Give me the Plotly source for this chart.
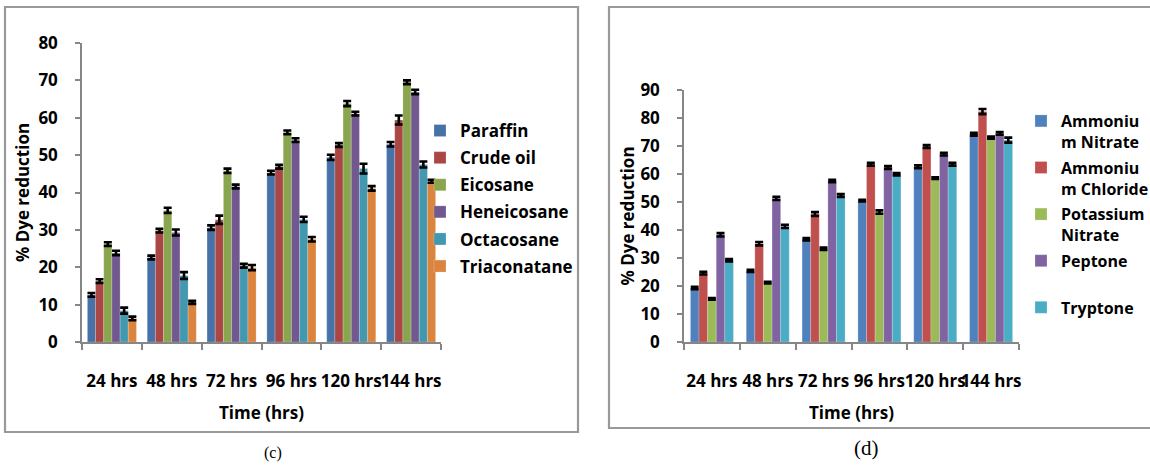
import plotly.graph_objects as go

# ---------------- data ----------------
times = ["24 hrs", "48 hrs", "72 hrs", "96 hrs", "120 hrs", "144 hrs"]

# panel (c)
c_names = ["Paraffin", "Crude oil", "Eicosane", "Heneicosane", "Octacosane", "Triaconatane"]
paraffin = [12.6, 22.6, 30.6, 45.3, 49.4, 52.9]
crude_oil = [16.3, 29.8, 32.7, 46.9, 52.7, 59.4]
eicosane = [26.2, 35.2, 45.8, 56.1, 63.8, 69.5]
heneicosane = [23.8, 29.3, 41.6, 54.0, 61.1, 66.9]
octacosane = [8.4, 17.8, 20.4, 32.8, 46.4, 47.5]
triaconatane = [6.3, 10.6, 19.9, 27.5, 41.1, 43.0]
paraffin_err = [0.5, 0.5, 0.6, 0.5, 0.7, 0.6]
crude_oil_err = [0.5, 0.5, 1.1, 0.5, 0.5, 1.2]
eicosane_err = [0.5, 0.7, 0.6, 0.5, 0.7, 0.5]
heneicosane_err = [0.6, 0.8, 0.5, 0.5, 0.5, 0.6]
octacosane_err = [0.8, 0.9, 0.5, 0.7, 1.3, 0.8]
triaconatane_err = [0.5, 0.4, 0.7, 0.6, 0.6, 0.4]

# panel (d)
d_names = ["Ammoniu<br>m Nitrate", "Ammoniu<br>m Chloride", "Potassium<br>Nitrate", "Peptone<br>\u00a0", "Tryptone"]
amm_nitrate = [19.3, 25.4, 36.7, 50.5, 62.6, 74.2]
amm_chloride = [24.6, 35.1, 45.7, 63.5, 69.8, 82.3]
pot_nitrate = [15.4, 21.2, 33.3, 46.4, 58.5, 73.0]
peptone = [38.3, 51.3, 57.5, 62.3, 67.1, 74.5]
tryptone = [29.2, 41.3, 52.3, 59.9, 63.5, 72.1]
amm_nitrate_err = [0.4, 0.4, 0.4, 0.3, 0.5, 0.5]
amm_chloride_err = [0.5, 0.6, 0.7, 0.5, 0.5, 0.9]
pot_nitrate_err = [0.3, 0.3, 0.4, 0.6, 0.3, 0.4]
peptone_err = [0.6, 0.6, 0.4, 0.5, 0.5, 0.5]
tryptone_err = [0.4, 0.6, 0.5, 0.4, 0.5, 0.9]

c_values = [paraffin, crude_oil, eicosane, heneicosane, octacosane, triaconatane]
c_errors = [paraffin_err, crude_oil_err, eicosane_err, heneicosane_err, octacosane_err, triaconatane_err]
d_values = [amm_nitrate, amm_chloride, pot_nitrate, peptone, tryptone]
d_errors = [amm_nitrate_err, amm_chloride_err, pot_nitrate_err, peptone_err, tryptone_err]

c_colors = ["#4672A8", "#AA4643", "#89A54E", "#71588F", "#4198AF", "#DB843D"]
d_colors = ["#4F81BD", "#C0504D", "#9BBB59", "#8064A2", "#4BACC6"]

# ---------------- figure ----------------
W, H = 1150, 466
FONT = "Open Sans"


def px_x(v):
    return v / W


def px_y(v):
    return 1 - v / H


fig = go.Figure()

c_total = 0.82
cw = c_total / len(c_names)
for i, (name, vals, errs, col) in enumerate(zip(c_names, c_values, c_errors, c_colors)):
    fig.add_trace(go.Bar(
        x=times, y=vals, name=name, xaxis="x", yaxis="y",
        marker=dict(color=col, line=dict(color="rgba(255,255,255,0.35)", width=0.6)),
        width=cw, offset=-c_total / 2 + i * cw,
        error_y=dict(type="data", array=errs, visible=True, color="black", thickness=2.6, width=4),
        legend="legend", legendgroup="c%d" % i,
    ))

d_total = 0.77
dw = d_total / len(d_names)
for i, (name, vals, errs, col) in enumerate(zip(d_names, d_values, d_errors, d_colors)):
    fig.add_trace(go.Bar(
        x=times, y=vals, name=name, xaxis="x2", yaxis="y2",
        marker=dict(color=col, line=dict(color="rgba(255,255,255,0.35)", width=0.6)),
        width=dw, offset=-d_total / 2 + i * dw,
        error_y=dict(type="data", array=errs, visible=True, color="black", thickness=2.6, width=4),
        legend="legend2", legendgroup="d%d" % i,
    ))

tickfont = dict(family=FONT, size=17, color="black", weight="bold")
titlefont = dict(family=FONT, size=17, color="black", weight="bold")
axcol = "#868686"

common_x = dict(
    type="category", showgrid=False, zeroline=False, showline=True, linecolor=axcol, linewidth=1.5,
    ticks="outside", tickson="boundaries", ticklen=6, tickcolor=axcol, tickwidth=1.5,
    tickfont=tickfont, ticklabelstandoff=23, tickangle=0, automargin=False,
    title=dict(text="Time (hrs)", font=titlefont, standoff=16),
)
common_y = dict(
    showgrid=False, zeroline=False, showline=True, linecolor=axcol, linewidth=1.5,
    ticks="outside", ticklen=5, tickcolor=axcol, tickwidth=1.5, tickfont=tickfont,
    ticklabelstandoff=14, automargin=False,
)

fig.update_layout(
    width=W, height=H, margin=dict(l=0, r=0, t=0, b=0, autoexpand=False),
    paper_bgcolor="white", plot_bgcolor="white",
    barmode="group",
    xaxis=dict(domain=[px_x(82), px_x(441)], anchor="y", **common_x),
    yaxis=dict(domain=[px_y(342), px_y(43)], anchor="x", range=[0, 80], dtick=10,
               title=dict(text="% Dye reduction", font=titlefont, standoff=4), **common_y),
    xaxis2=dict(domain=[px_x(684), px_x(1019)], anchor="y2", **common_x),
    yaxis2=dict(domain=[px_y(342), px_y(90)], anchor="x2", range=[0, 90], dtick=10,
                title=dict(text="% Dye reduction", font=titlefont, standoff=1), **common_y),
    legend=dict(x=px_x(420), y=px_y(113), xanchor="left", yanchor="top",
                font=dict(family=FONT, size=17, color="black", weight="bold"),
                traceorder="grouped", tracegroupgap=2, itemclick=False,
                bgcolor="rgba(0,0,0,0)", valign="top"),
    legend2=dict(x=px_x(1021), y=px_y(104), xanchor="left", yanchor="top",
                 font=dict(family=FONT, size=16, color="black", weight="bold"),
                 traceorder="grouped", tracegroupgap=2, itemclick=False,
                 bgcolor="rgba(0,0,0,0)", valign="top"),
    showlegend=True,
)

# panel frames
frame = dict(color="#999999", width=2.2)
fig.add_shape(type="rect", xref="paper", yref="paper",
              x0=px_x(5), x1=px_x(578), y0=px_y(432), y1=px_y(7), line=frame, layer="below")
fig.add_shape(type="path", xref="paper", yref="paper",
              path="M %f,%f L %f,%f L %f,%f L %f,%f" % (px_x(1152), px_y(7), px_x(609), px_y(7),
                                                       px_x(609), px_y(428), px_x(1152), px_y(428)),
              line=frame, layer="below")

# captions
fig.add_annotation(text="(c)", xref="paper", yref="paper", x=px_x(262), y=px_y(464),
                   showarrow=False, font=dict(family="Liberation Serif", size=16, color="black"))
fig.add_annotation(text="(d)", xref="paper", yref="paper", x=px_x(881), y=px_y(462),
                   showarrow=False, font=dict(family="Liberation Serif", size=21, color="black"))

fig.write_html("out.html", config={"displayModeBar": False},
               post_script="document.body.style.margin='0px';document.body.style.overflow='hidden';")
